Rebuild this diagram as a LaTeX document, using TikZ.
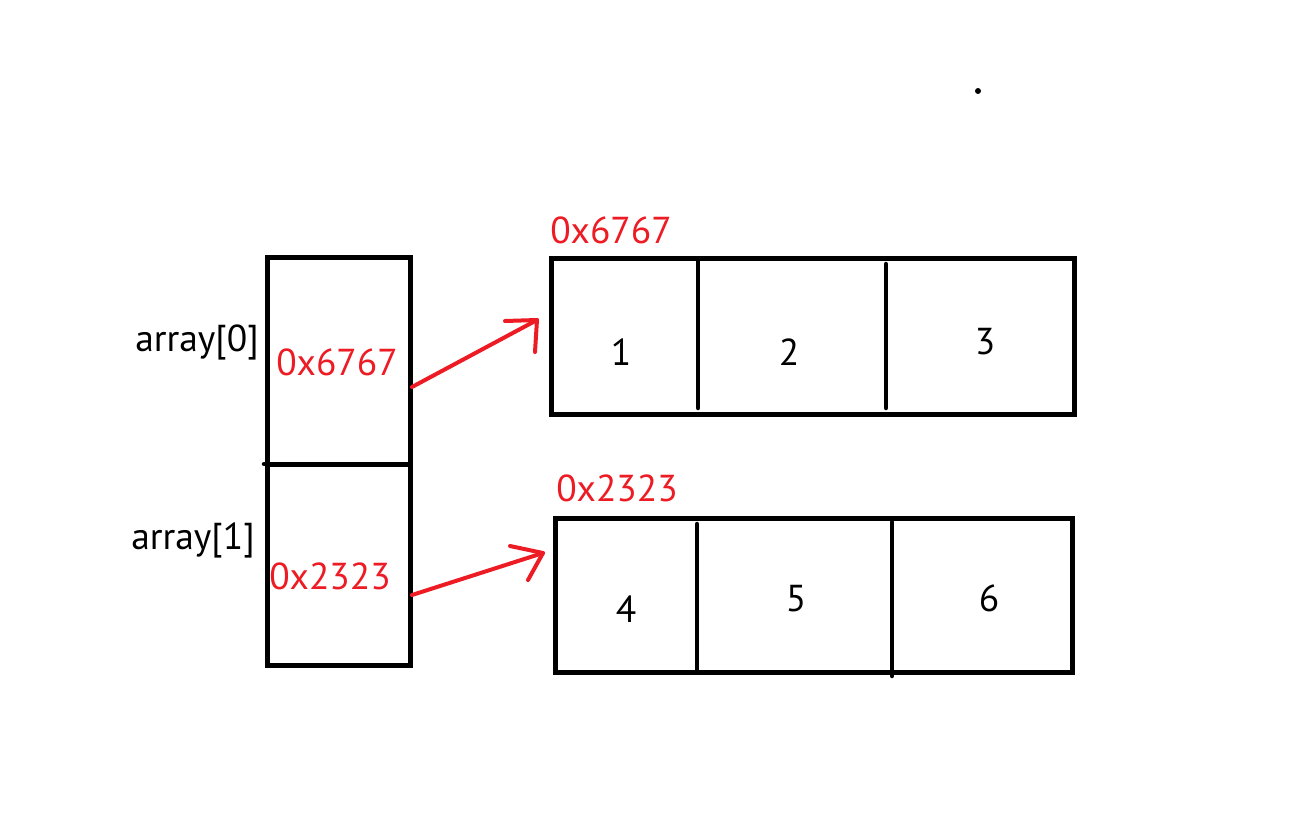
\documentclass[tikz,border=0pt]{standalone}
\usepackage{fontspec}
\setmainfont{PT Sans}
\definecolor{pred}{RGB}{237,28,36}
\begin{document}
\begin{tikzpicture}[x=1pt,y=-1pt,
  blk/.style={line width=5pt, draw=black},
  sep/.style={line width=4.5pt, black, line cap=round},
  ptr/.style={line width=4pt, pred, line cap=round, line join=round},
  lbl/.style={font=\fontsize{37.5}{40}\selectfont, inner sep=0pt},
  addr/.style={lbl, text=pred},
  cell/.style={blk, inner sep=0pt, outer sep=0pt, anchor=north west}]
\useasboundingbox (0,0) rectangle (1309,827);
\fill[white] (0,0) rectangle (1309,827);
% left pointer array
\node[cell, minimum width=143pt, minimum height=207pt] (c0) at (267,257) {};
\node[cell, minimum width=143pt, minimum height=201pt] (c1) at (267,464) {};
\draw[sep] (264,464) -- (c0.south east);
% top row array
\node[cell, minimum width=523pt, minimum height=156pt] (r0) at (551,258) {};
\draw[sep] (698,260) -- (698,408);
\draw[sep] (886,264) -- (886,408);
% bottom row array
\node[cell, minimum width=517pt, minimum height=154pt] (r1) at (555,518) {};
\draw[sep] (697,524) -- (697,670);
\draw[sep] (892,522) -- (892,676);
% labels
\node[lbl] (a0) at (197,342) {array[0]};
\node[lbl] (a1) at (193,540) {array[1]};
\node[addr] (p0) at (337,362) {0x6767};
\node[addr] (p1) at (330,576) {0x2323};
\node[addr] (h0) at (611,230) {0x6767};
\node[addr] (h1) at (617,488) {0x2323};
\node[lbl] (v1) at (621,352) {1};
\node[lbl] (v2) at (789,352) {2};
\node[lbl] (v3) at (985,342) {3};
\node[lbl] (v4) at (626,609) {4};
\node[lbl] (v5) at (796,599) {5};
\node[lbl] (v6) at (989,598) {6};
% pointer arrows
\coordinate (s0) at (412,387);
\coordinate (t0) at (537,320);
\coordinate (s1) at (412,595);
\coordinate (t1) at (543,553);
\draw[ptr] (s0) -- (t0);
\draw[ptr] (505,321) -- (t0) -- (535,352);
\draw[ptr] (s1) -- (t1);
\draw[ptr] (510,546) -- (t1) -- (528,580);
% stray dot
\fill[black] (978,91) circle (3pt);
\end{tikzpicture}
\end{document}
